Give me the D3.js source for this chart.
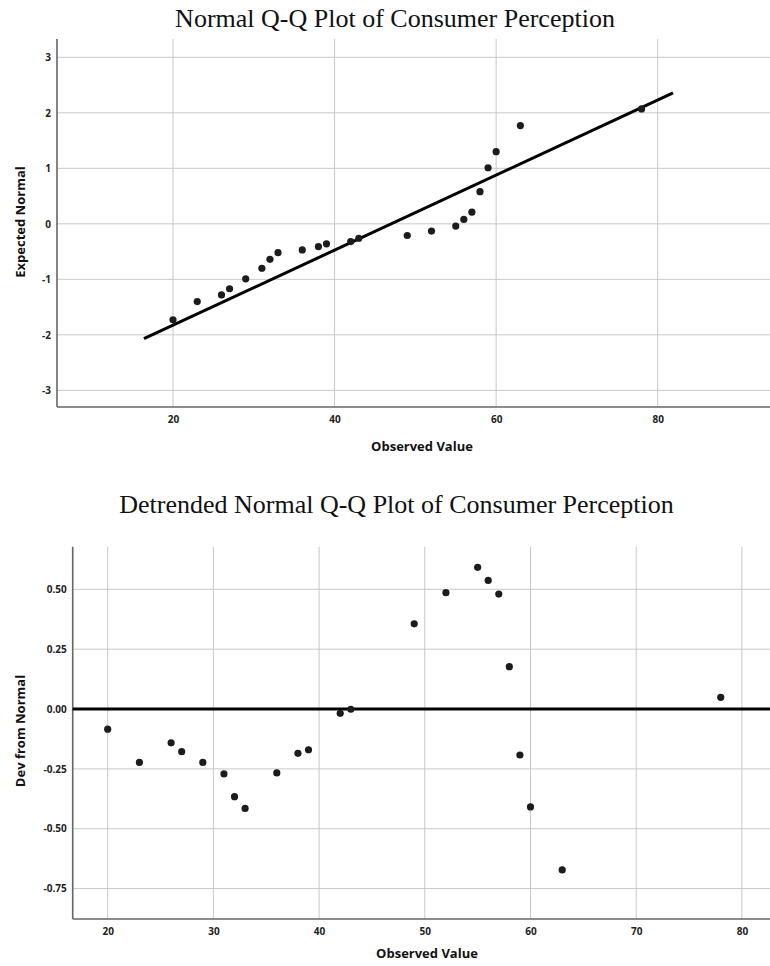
<!DOCTYPE html>
<html>
<head>
<meta charset="utf-8">
<script src="https://cdn.jsdelivr.net/npm/d3@7"></script>
<style>
  body { margin: 0; background: #fff; }
  svg { display: block; }
  .title { font-family: "Liberation Serif", "Times New Roman", serif; font-size: 26px; fill: #111; }
  .tick-label { font-family: "Open Sans", sans-serif; font-size: 10px; font-weight: 700; fill: #222; }
  .axis-label { font-family: "Open Sans", sans-serif; font-size: 13px; font-weight: 700; fill: #111; }
  .grid { stroke: #c8c8c8; stroke-width: 1; }
</style>
</head>
<body>
<div id="chart"></div>
<script>
// observed values (shared by both plots)
const observed = [20, 23, 26, 27, 29, 31, 32, 33, 36, 38, 39, 42, 43, 49, 52, 55, 56, 57, 58, 59, 60, 63, 78];
// expected normal values (Q-Q plot)
const expected = [-1.73, -1.40, -1.28, -1.17, -0.99, -0.80, -0.64, -0.52, -0.47, -0.41, -0.36, -0.32, -0.26,
                  -0.21, -0.13, -0.04, 0.08, 0.21, 0.58, 1.01, 1.30, 1.77, 2.07];
// deviation from normal (detrended plot)
const deviation = [-0.084, -0.223, -0.141, -0.178, -0.223, -0.271, -0.366, -0.415, -0.267, -0.185, -0.170, -0.018, -0.001,
                   0.356, 0.486, 0.592, 0.537, 0.480, 0.177, -0.192, -0.409, -0.672, 0.049];
// fitted reference line end points
const refLine = [[16.4, -2.07], [81.9, 2.36]];

const qqXTicks = [20, 40, 60, 80];
const qqYTicks = [-3, -2, -1, 0, 1, 2, 3];
const dtXTicks = [20, 30, 40, 50, 60, 70, 80];
const dtYTicks = [-0.75, -0.5, -0.25, 0, 0.25, 0.5];

// plain hyphen for negatives, like SPSS
const loc = d3.formatLocale({decimal: ".", thousands: ",", grouping: [3], currency: ["", ""], minus: "-"});

const W = 770, H = 966;
const svg = d3.select("#chart").append("svg")
    .attr("width", W)
    .attr("height", H);

function drawPanel(opt) {
    const x = d3.scaleLinear().domain(opt.xDomain).range([opt.left, opt.right]);
    const y = d3.scaleLinear().domain(opt.yDomain).range([opt.bottom, opt.top]);
    const g = svg.append("g");

    // grid
    g.selectAll(".gx").data(opt.xTicks).enter().append("line")
        .attr("class", "grid")
        .attr("x1", d => x(d)).attr("x2", d => x(d))
        .attr("y1", opt.top).attr("y2", opt.bottom);
    g.selectAll(".gy").data(opt.yTicks).enter().append("line")
        .attr("class", "grid")
        .attr("x1", opt.left).attr("x2", opt.right)
        .attr("y1", d => y(d)).attr("y2", d => y(d));

    // axes
    const xAxis = d3.axisBottom(x).tickValues(opt.xTicks).tickSize(0).tickPadding(9)
        .tickFormat(opt.xFormat);
    const yAxis = d3.axisLeft(y).tickValues(opt.yTicks).tickSize(0).tickPadding(6)
        .tickFormat(opt.yFormat);

    const gx = g.append("g").attr("transform", "translate(0," + opt.bottom + ")").call(xAxis);
    const gy = g.append("g").attr("transform", "translate(" + opt.left + ",0)").call(yAxis);
    [gx, gy].forEach(a => {
        a.select(".domain").attr("stroke", "#666").attr("stroke-width", 1.6);
        a.selectAll("text").attr("class", "tick-label").attr("fill", null).attr("font-family", null).attr("font-size", null);
    });
    // keep the axis lines spanning the full plot area
    gy.select(".domain").attr("d", "M0," + opt.top + "V" + opt.bottom);
    gx.select(".domain").attr("d", "M" + opt.left + ",0H" + opt.right);

    opt.extra && opt.extra(g, x, y);

    // points
    g.selectAll(".pt").data(opt.points).enter().append("circle")
        .attr("cx", d => x(d[0]))
        .attr("cy", d => y(d[1]))
        .attr("r", 3.6)
        .attr("fill", "#1c1c1c");

    // titles & labels
    svg.append("text").attr("class", "title")
        .attr("x", opt.titleX).attr("y", opt.titleY)
        .attr("text-anchor", "middle")
        .text(opt.title);
    svg.append("text").attr("class", "axis-label")
        .attr("x", opt.xLabelX).attr("y", opt.xLabelY)
        .attr("text-anchor", "middle")
        .text("Observed Value");
    svg.append("text").attr("class", "axis-label")
        .attr("transform", "translate(" + opt.yLabelX + "," + opt.yLabelY + ") rotate(-90)")
        .attr("text-anchor", "middle")
        .text(opt.yLabel);
}

// Normal Q-Q plot
drawPanel({
    left: 57, right: 770, top: 39, bottom: 407,
    xDomain: [5.64, 93.9], yDomain: [-3.3, 3.33],
    xTicks: qqXTicks, yTicks: qqYTicks,
    xFormat: loc.format("d"), yFormat: loc.format("d"),
    points: observed.map((d, i) => [d, expected[i]]),
    title: "Normal Q-Q Plot of Consumer Perception", titleX: 395, titleY: 27,
    xLabelX: 422, xLabelY: 451,
    yLabel: "Expected Normal", yLabelX: 25, yLabelY: 222,
    extra: (g, x, y) => {
        g.append("path")
            .datum(refLine)
            .attr("d", d3.line().x(d => x(d[0])).y(d => y(d[1])))
            .attr("stroke", "#000").attr("stroke-width", 3).attr("fill", "none");
    }
});

// Detrended normal Q-Q plot
drawPanel({
    left: 72.7, right: 770, top: 546.7, bottom: 919,
    xDomain: [16.69, 82.66], yDomain: [-0.877, 0.678],
    xTicks: dtXTicks, yTicks: dtYTicks,
    xFormat: loc.format("d"), yFormat: loc.format(".2f"),
    points: observed.map((d, i) => [d, deviation[i]]),
    title: "Detrended Normal Q-Q Plot of Consumer Perception", titleX: 396.5, titleY: 513,
    xLabelX: 427, xLabelY: 958,
    yLabel: "Dev from Normal", yLabelX: 25, yLabelY: 731,
    extra: (g, x, y) => {
        g.append("line")
            .attr("x1", x.range()[0]).attr("x2", x.range()[1])
            .attr("y1", y(0)).attr("y2", y(0))
            .attr("stroke", "#000").attr("stroke-width", 3);
    }
});
</script>
</body>
</html>
